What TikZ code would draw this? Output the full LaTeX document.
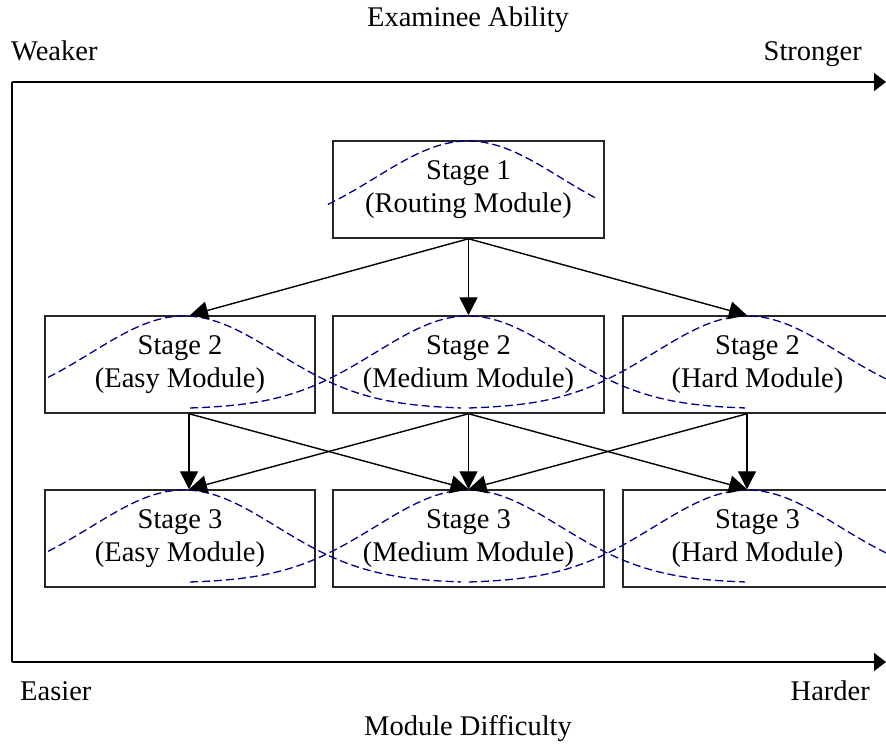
\documentclass[tikz,border=0pt]{standalone}
\usepackage{fontspec}
\setmainfont{Liberation Serif}
\usetikzlibrary{arrows.meta}
\definecolor{bellblue}{RGB}{0,0,140}
\begin{document}
\begin{tikzpicture}[x=1pt,y=-1pt,
  box/.style={draw=black!85,line width=1.5pt,minimum width=270pt,minimum height=97pt,
    align=center,inner sep=0pt,font=\fontsize{28.5}{33}\selectfont},
  lbl/.style={font=\fontsize{28.5}{33}\selectfont,inner sep=0pt},
  conn/.style={line width=1.4pt,-{Triangle[length=18pt,width=18pt]}},
  axisline/.style={line width=1.5pt,-{Triangle[length=12pt,width=18pt]}},
  bell/.style={draw=bellblue,line width=1.3pt,dash pattern=on 8pt off 4pt}]
\useasboundingbox (0,0) rectangle (886,744);

% labels
\node[lbl,anchor=base] (ability) at (468,27) {Examinee Ability};
\node[lbl,anchor=base west] (weaker) at (11,60) {Weaker};
\node[lbl,anchor=base east] (stronger) at (862,60) {Stronger};
\node[lbl,anchor=base west] (easier) at (20,700) {Easier};
\node[lbl,anchor=base east] (harder) at (870,700) {Harder};
\node[lbl,anchor=base] (difficulty) at (468,735) {Module Difficulty};

% frame
\coordinate (ftl) at (12,82);
\coordinate (fbl) at (12,662);
\coordinate (ftr) at (886,82);
\coordinate (fbr) at (886,662);
\draw[line width=1.5pt] (fbl) -- (ftl);
\draw[axisline] (ftl) -- (ftr);
\draw[axisline] (fbl) -- (fbr);

% boxes
\node[box,minimum width=271pt] (s1) at (468.5,189.5) {Stage 1\\(Routing Module)};
\node[box] (e2) at (180,364.5) {Stage 2\\(Easy Module)};
\node[box,minimum width=271pt] (m2) at (468.5,364.5) {Stage 2\\(Medium Module)};
\node[box,minimum width=269pt] (h2) at (757.5,364.5) {Stage 2\\(Hard Module)};
\node[box] (e3) at (180,538.5) {Stage 3\\(Easy Module)};
\node[box,minimum width=271pt] (m3) at (468.5,538.5) {Stage 3\\(Medium Module)};
\node[box,minimum width=269pt] (h3) at (757.5,538.5) {Stage 3\\(Hard Module)};

% bell curves
\draw[bell] plot[domain=328:598,samples=80,smooth] (\x,{234-93*exp(-0.5*pow((\x-468)/92.6,2))});
\foreach \yb in {409,583}{
  \draw[bell] plot[domain=48:461,samples=90,smooth] (\x,{\yb-93*exp(-0.5*pow((\x-184)/92.6,2))});
  \draw[bell] plot[domain=190:745,samples=110,smooth] (\x,{\yb-93*exp(-0.5*pow((\x-468)/92.6,2))});
  \draw[bell] plot[domain=469:890,samples=90,smooth] (\x,{\yb-93*exp(-0.5*pow((\x-747)/92.6,2))});
}

% connectors stage 1 -> stage 2
\draw[conn] (s1.south) -- ([xshift=10pt]e2.north);
\draw[conn] (s1.south) -- (m2.north);
\draw[conn] (s1.south) -- ([xshift=-10.5pt]h2.north);

% connectors stage 2 -> stage 3
\draw[conn] ([xshift=9pt]e2.south) -- ([xshift=9pt]e3.north);
\draw[conn] ([xshift=9pt]e2.south) -- (m3.north);
\draw[conn] (m2.south) -- ([xshift=9pt]e3.north);
\draw[conn] (m2.south) -- (m3.north);
\draw[conn] (m2.south) -- ([xshift=-10.5pt]h3.north);
\draw[conn] ([xshift=-10.5pt]h2.south) -- (m3.north);
\draw[conn] ([xshift=-10.5pt]h2.south) -- ([xshift=-10.5pt]h3.north);
\end{tikzpicture}
\end{document}
